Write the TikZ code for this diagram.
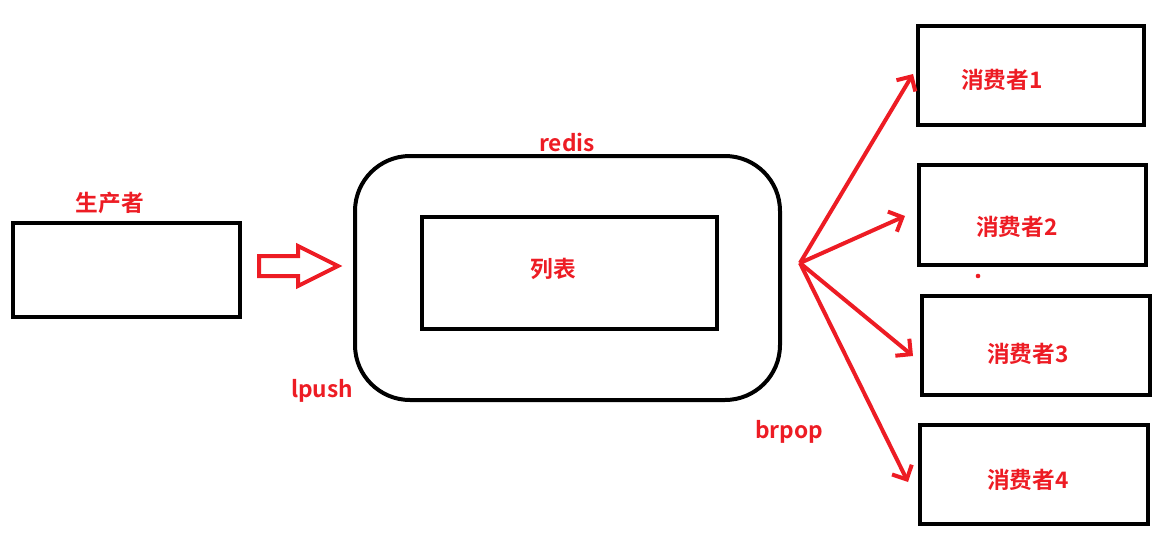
\documentclass[tikz,border=0pt]{standalone}
\usepackage{fontspec}
\setmainfont{Noto Sans CJK SC}[BoldFont={Noto Sans CJK SC Bold}]
\usetikzlibrary{arrows.meta}
\definecolor{pred}{RGB}{237,28,36}
\begin{document}
\begin{tikzpicture}[x=1pt,y=-1pt,
  box/.style={draw=black,line width=4pt},
  lbl/.style={text=pred,font=\bfseries\fontsize{22.7}{23}\selectfont,inner sep=0pt},
  arr/.style={draw=pred,line width=4pt,-{Straight Barb[length=11pt,width=22pt,line width=4pt]}}]
\useasboundingbox (0,0) rectangle (1167,549);
% producer
\draw[box] (13,223) rectangle (240,317);
\node[lbl] (prodl) at (110,203) {生产者};
% hollow arrow
\draw[draw=pred,line width=4pt,line join=miter] (259,256) -- (298,256) -- (298,246) -- (338,266) -- (298,286) -- (298,276) -- (259,276) -- cycle;
% redis
\draw[box,rounded corners=55pt] (355,156) rectangle (780,400);
\node[lbl] (redisl) at (567,142) {redis};
\draw[box] (422,217) rectangle (717,329);
\node[lbl] (list) at (553,269) {列表};
\node[lbl] (lpush) at (322,391) {lpush};
\node[lbl] (brpop) at (789,432) {brpop};
% consumers
\draw[box] (918,26) rectangle (1144,125);
\node[lbl] (c1) at (1002,80) {消费者1};
\draw[box] (919,165) rectangle (1146,265);
\node[lbl] (c2) at (1017,227) {消费者2};
\draw[box] (922,296) rectangle (1150,395);
\node[lbl] (c3) at (1028,354) {消费者3};
\draw[box] (920,425) rectangle (1148,524);
\node[lbl] (c4) at (1028,480) {消费者4};
% arrows
\coordinate (o) at (800,263);
\coordinate (e1) at (913,74);
\coordinate (e2) at (905,216);
\coordinate (e3) at (913,356);
\coordinate (e4) at (908,482);
\draw[arr] (o) -- (e1);
\draw[arr] (o) -- (e2);
\draw[arr] (o) -- (e3);
\draw[arr] (o) -- (e4);
% dot
\fill[pred] (978,276) circle (2.3pt);
\end{tikzpicture}
\end{document}
